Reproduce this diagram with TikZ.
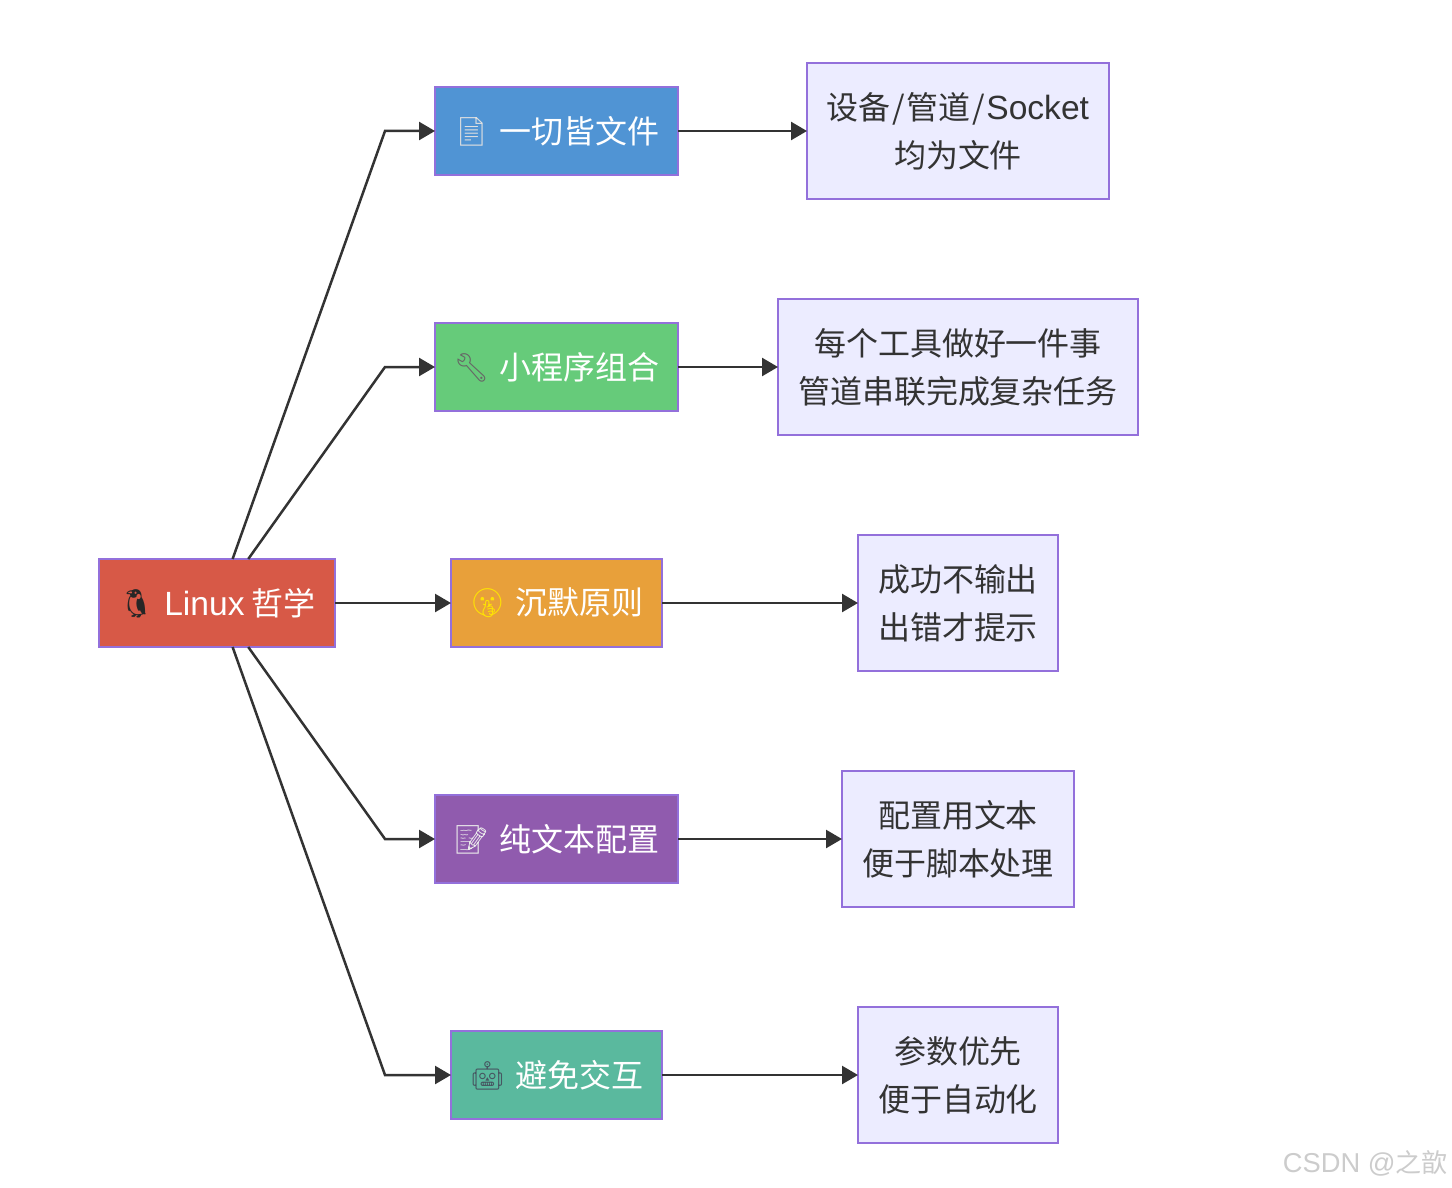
\documentclass[tikz,border=0pt]{standalone}
\usepackage{fontspec,xcolor}
\usetikzlibrary{arrows.meta}
\setmainfont{Noto Sans CJK SC}
\newfontfamily\latinfont[Scale=1.05]{Liberation Sans}
\newfontfamily\emojifont{Noto Emoji}
\newcommand{\emo}[2]{\raisebox{0.04cm}{\color{#1}\fontsize{16pt}{16pt}\emojifont #2}\hspace{0.1em}}
\newcommand{\wideslash}{\hspace{0.05em}/\hspace{0.05em}}
\definecolor{myBorder}{RGB}{147, 112, 219}
\definecolor{myLine}{RGB}{51, 51, 51}
\definecolor{myRed}{RGB}{215, 89, 71}
\definecolor{myBlue}{RGB}{80, 148, 212}
\definecolor{myGreen}{RGB}{102, 203, 122}
\definecolor{myOrange}{RGB}{232, 160, 58}
\definecolor{myPurple}{RGB}{144, 91, 174}
\definecolor{myTeal}{RGB}{90, 185, 158}
\definecolor{myLight}{RGB}{236, 236, 255}
\tikzset{
	box/.style={draw=myBorder, line width=0.04cm, outer sep=0pt, inner sep=0pt, align=center,
		font=\fontsize{18.2pt}{27.3pt}\selectfont},
	topic/.style={box, text=white, minimum height=1.76cm},
	note/.style={box, text=myLine, fill=myLight, minimum height=2.72cm},
	link/.style={draw=myLine, line width=0.05cm, -{Triangle[length=0.32cm, width=0.36cm]}}
}
\begin{document}
\begin{tikzpicture}
	\useasboundingbox (0,0) rectangle (29.04,-23.76);

	\draw (4.34,-12.06) node[topic, fill=myRed, minimum width=4.72cm] (root) {\emo{black!85}{🐧} {\latinfont Linux} 哲学};

	\draw (11.13,-2.62) node[topic, fill=myBlue, minimum width=4.86cm] (everything) {\emo{black!12}{📄} 一切皆文件};
	\draw (11.13,-7.34) node[topic, fill=myGreen, minimum width=4.86cm] (small) {\emo{black!60}{🔧} 小程序组合};
	\draw (11.13,-12.06) node[topic, fill=myOrange, minimum width=4.22cm] (silence) {\emo{yellow!85!orange}{🤫} 沉默原则};
	\draw (11.13,-16.78) node[topic, fill=myPurple, minimum width=4.86cm] (plain) {\emo{black!8}{📝} 纯文本配置};
	\draw (11.13,-21.5) node[topic, fill=myTeal, minimum width=4.22cm] (avoid) {\emo{black!70!cyan}{🤖} 避免交互};

	\draw (19.16,-2.62) node[note, minimum width=6.04cm] (everythingNote) {设备\wideslash 管道\wideslash{\latinfont Socket}\\均为文件};
	\draw (19.16,-7.34) node[note, minimum width=7.2cm] (smallNote) {每个工具做好一件事\\管道串联完成复杂任务};
	\draw (19.16,-12.06) node[note, minimum width=4cm] (silenceNote) {成功不输出\\出错才提示};
	\draw (19.16,-16.78) node[note, minimum width=4.64cm] (plainNote) {配置用文本\\便于脚本处理};
	\draw (19.16,-21.5) node[note, minimum width=4cm] (avoidNote) {参数优先\\便于自动化};

	\coordinate (bendA) at (7.7,-2.62);
	\coordinate (bendB) at (7.7,-7.34);
	\coordinate (bendD) at (7.7,-16.78);
	\coordinate (bendE) at (7.7,-21.5);

	\draw[link] (root) -- (bendA) -- (everything);
	\draw[link] (root) -- (bendB) -- (small);
	\draw[link] (root) -- (bendD) -- (plain);
	\draw[link] (root) -- (bendE) -- (avoid);

	\path
	(root) edge[link] (silence)
	(everything) edge[link] (everythingNote)
	(small) edge[link] (smallNote)
	(silence) edge[link] (silenceNote)
	(plain) edge[link] (plainNote)
	(avoid) edge[link] (avoidNote)
	;

	\node[anchor=base east, inner sep=0pt, text=black!20, font=\fontsize{14.8pt}{14.8pt}\selectfont] (mark) at (28.96,-23.44) {{\latinfont CSDN @}之歆};
\end{tikzpicture}
\end{document}
